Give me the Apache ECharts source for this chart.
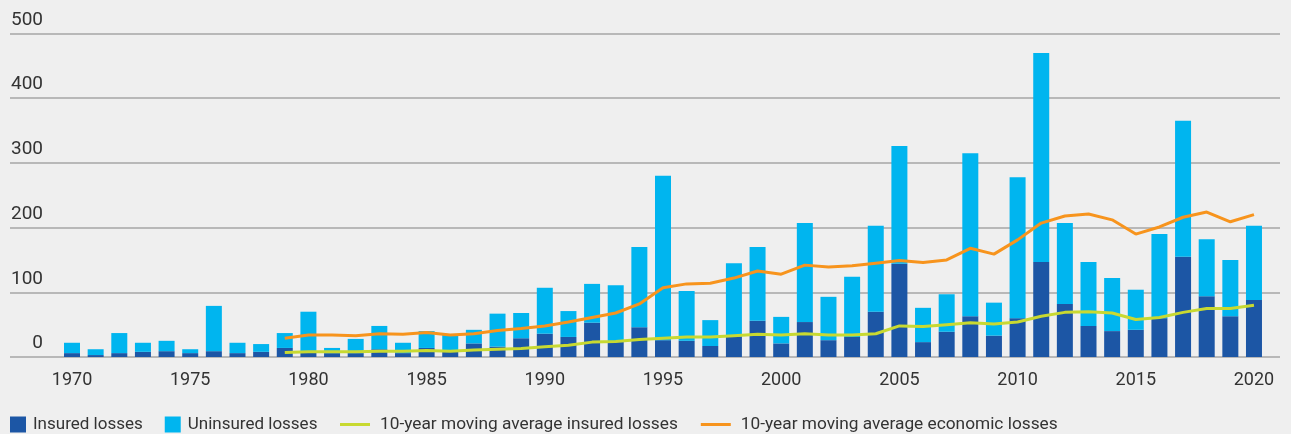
<!DOCTYPE html>
<html>
<head>
<meta charset="utf-8">
<script src="https://cdn.jsdelivr.net/npm/echarts@6/dist/echarts.min.js"></script>
<style>
  html, body { margin: 0; padding: 0; background: #efefef; }
  #chart { width: 1291px; height: 434px; }
</style>
</head>
<body>
<div id="chart"></div>
<script>
// years on the axis
var years = [];
for (var y = 1970; y <= 2020; y++) years.push(String(y));

// USD bn
var insured = [6, 3, 6, 8, 9, 6, 9, 6, 8, 14,
    8, 6, 6, 12, 6, 14, 9, 21, 16, 29,
    36, 31, 53, 24, 46, 26, 25, 17, 31, 56,
    21, 54, 26, 31, 70, 144, 23, 39, 63, 33,
    60, 147, 82, 48, 40, 42, 60, 155, 94, 63,
    88];
var uninsured = [16, 9, 31, 14, 16, 6, 70, 16, 12, 23,
    62, 8, 22, 36, 16, 26, 25, 21, 51, 39,
    71, 40, 60, 87, 124, 254, 77, 40, 114, 114,
    41, 153, 67, 93, 133, 182, 53, 58, 252, 51,
    218, 323, 125, 99, 82, 62, 130, 210, 88, 87,
    115];

// 10-year moving averages, 1979..2020
var avgStart = 1979;
var avgInsured = [7, 8, 8, 8, 9, 9, 10, 9, 11, 12,
    13, 16, 18, 23, 24, 27, 29, 31, 31, 33,
    35, 34, 36, 34, 34, 36, 48, 47, 50, 53,
    51, 54, 63, 69, 70, 68, 58, 61, 69, 75,
    75, 80];
var avgEconomic = [29, 34, 34, 33, 36, 35, 38, 34, 36, 41,
    44, 48, 54, 61, 68, 82, 107, 113, 114, 122,
    133, 128, 142, 139, 141, 145, 149, 146, 150, 168,
    159, 181, 207, 218, 221, 212, 190, 201, 216, 224,
    209, 220];

var yTicks = [0, 100, 200, 300, 400, 500];

function pad(arr) {
    var out = [];
    for (var i = 1970; i < avgStart; i++) out.push(null);
    return out.concat(arr);
}

var chart = echarts.init(document.getElementById('chart'));

var font = 'Roboto, "Liberation Sans", sans-serif';

var option = {
    backgroundColor: '#efefef',
    animation: false,
    grid: [
        { left: 10, right: 11, top: 33.5, bottom: 77 },
        { left: 60.2, width: 1205.6, top: 33.5, bottom: 77 }
    ],
    legend: [{
        left: 10,
        top: 416,
        padding: 0,
        icon: 'rect',
        itemWidth: 16,
        itemHeight: 16,
        itemGap: 22,
        textStyle: { fontFamily: font, fontSize: 17, color: '#333', padding: [0, 0, 0, 2] },
        data: ['Insured losses', 'Uninsured losses']
    }, {
        left: 340,
        top: 416,
        padding: 0,
        icon: 'rect',
        itemWidth: 30,
        itemHeight: 3,
        itemGap: 23,
        textStyle: { fontFamily: font, fontSize: 17.3, color: '#333', padding: [0, 0, 0, 5] },
        data: ['10-year moving average insured losses', '10-year moving average economic losses']
    }],
    xAxis: [{
        gridIndex: 0,
        type: 'value',
        show: false
    }, {
        gridIndex: 1,
        type: 'category',
        data: years,
        axisLine: { show: false },
        axisTick: { show: false },
        axisLabel: {
            interval: 4,
            margin: 14,
            fontFamily: font,
            fontSize: 18,
            color: '#333'
        }
    }],
    yAxis: [{
        gridIndex: 0,
        type: 'value',
        min: yTicks[0],
        max: yTicks[yTicks.length - 1],
        interval: 100,
        axisLine: { show: false },
        axisTick: { show: false },
        axisLabel: {
            inside: true,
            align: 'right',
            verticalAlign: 'bottom',
            margin: 33,
            padding: [0, 0, 4, 0],
            fontFamily: font,
            fontSize: 19,
            color: '#333'
        },
        splitLine: { lineStyle: { color: '#a6a6a6', width: 1.5 } }
    }, {
        gridIndex: 1,
        type: 'value',
        min: 0,
        max: 500,
        show: false,
        splitLine: { show: false }
    }],
    series: [{
        name: 'Insured losses',
        type: 'bar',
        stack: 'loss',
        xAxisIndex: 1,
        yAxisIndex: 1,
        barWidth: 16,
        itemStyle: { color: '#1c56a5' },
        data: insured
    }, {
        name: 'Uninsured losses',
        type: 'bar',
        stack: 'loss',
        xAxisIndex: 1,
        yAxisIndex: 1,
        barWidth: 16,
        itemStyle: { color: '#00b5ef' },
        data: uninsured
    }, {
        name: '10-year moving average insured losses',
        type: 'line',
        xAxisIndex: 1,
        yAxisIndex: 1,
        showSymbol: false,
        z: 4,
        itemStyle: { color: '#c8d931' },
        lineStyle: { color: '#c8d931', width: 3 },
        data: pad(avgInsured)
    }, {
        name: '10-year moving average economic losses',
        type: 'line',
        xAxisIndex: 1,
        yAxisIndex: 1,
        showSymbol: false,
        z: 4,
        itemStyle: { color: '#f7941d' },
        lineStyle: { color: '#f7941d', width: 3 },
        data: pad(avgEconomic)
    }]
};

chart.setOption(option);
</script>
</body>
</html>
